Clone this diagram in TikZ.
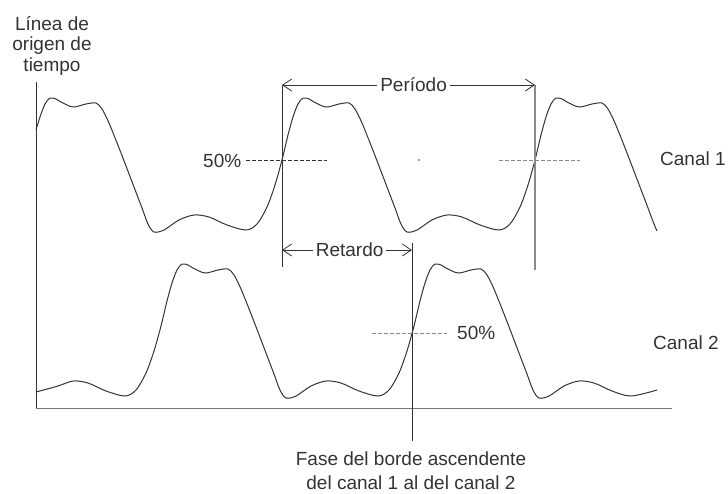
\documentclass[tikz,border=0pt]{standalone}
\usepackage{fontspec}
\setmainfont{Liberation Sans}
\usetikzlibrary{arrows.meta}
\definecolor{ink}{HTML}{333333}
\definecolor{greyink}{HTML}{8A8A8A}
\definecolor{axisgrey}{HTML}{777777}
\begin{document}
\begin{tikzpicture}[x=1pt,y=-1pt,
  lbl/.style={text=ink, inner sep=0pt, font=\fontsize{19}{23}\selectfont},
  wave/.style={draw=ink, line width=1pt, line join=round},
  darkline/.style={draw=ink, line width=0.9pt},
  greyline/.style={draw=greyink, line width=1.3pt},
  dimarrow/.style={draw=ink, line width=0.8pt,
    {Straight Barb[length=9pt,width=12pt]}-{Straight Barb[length=9pt,width=12pt]}},
  dashdark/.style={draw=ink, line width=0.8pt, dash pattern=on 4pt off 2pt},
  dashgrey/.style={draw=greyink, line width=0.9pt, dash pattern=on 4pt off 2pt}]
\useasboundingbox (0,0) rectangle (728,493);

% axes
\coordinate (otop) at (36,82);
\coordinate (obot) at (36,408);
\coordinate (aend) at (672,408);
\draw[darkline] (otop) -- (obot);
\draw[draw=axisgrey, line width=1pt] (obot) -- (aend);

% channel 1
\begin{scope}[shift={(29,160)}]
\draw[wave] plot[smooth,tension=0.5] coordinates {
 (7,-30) (11,-43) (16,-56) (21,-62) (27,-61) (32,-58) (44,-53) (57,-56) (67,-57) (73,-51) (80,-37) (92,-7) (105,27) (113,48) (119,64) (125,72) (135,70) (150,60) (165,55) (180,57) (198,65) (217,70) (228,64) (238,47) (246,25)
 (253,0) (259,-25) (264,-43) (269,-56) (274,-62) (280,-61) (285,-58) (297,-53) (310,-56) (320,-57) (326,-51) (333,-37) (345,-7) (358,27) (366,48) (372,64) (378,72) (388,70) (403,60) (418,55) (433,57) (451,65) (470,70) (481,64) (491,47) (499,25)
 (506,0) (512,-25) (517,-43) (522,-56) (527,-62) (533,-61) (538,-58) (550,-53) (563,-56) (573,-57) (579,-51) (586,-37) (598,-7) (611,27) (619,48) (625,64) (628,71)};
\end{scope}

% channel 2
\begin{scope}[shift={(414,326)}]
\draw[wave] plot[smooth,tension=0.5] coordinates {
 (-378,66) (-356,60) (-341,55) (-326,57) (-308,65) (-289,70) (-278,64) (-268,47) (-260,25)
 (-253,0) (-247,-25) (-242,-43) (-237,-56) (-232,-62) (-226,-61) (-221,-58) (-209,-53) (-196,-56) (-186,-57) (-180,-51) (-173,-37) (-161,-7) (-148,27) (-140,48) (-134,64) (-128,72) (-118,70) (-103,60) (-88,55) (-73,57) (-55,65) (-36,70) (-25,64) (-15,47) (-7,25)
 (0,0) (6,-25) (11,-43) (16,-56) (21,-62) (27,-61) (32,-58) (44,-53) (57,-56) (67,-57) (73,-51) (80,-37) (92,-7) (105,27) (113,48) (119,64) (125,72) (135,70) (150,60) (165,55) (180,57) (198,65) (217,70) (243,64)};
\end{scope}

% vertical reference lines
\coordinate (v1t) at (282,85);
\coordinate (v1b) at (282,267);
\coordinate (v2t) at (535,85);
\coordinate (v2b) at (535,270);
\coordinate (v3t) at (412,243);
\coordinate (v3b) at (412,441);
\draw[darkline] (v1t) -- (v1b);
\draw[greyline] (v2t) -- (v2b);
\draw[darkline] (v3t) -- (v3b);

% period and delay
\coordinate (perL) at (282,85);
\coordinate (perR) at (535,85);
\draw[dimarrow] (perL) -- node[lbl, fill=white, inner xsep=3pt, pos=0.52] (per) {Período} (perR);
\coordinate (retL) at (282,250);
\coordinate (retR) at (412,250);
\draw[dimarrow] (retL) -- node[lbl, fill=white, inner xsep=3pt, pos=0.52] (ret) {Retardo} (retR);

% 50% levels
\node[lbl, anchor=west] (p1) at (203,161) {50\%};
\coordinate (d1r) at (327,160);
\draw[dashdark] ([xshift=5pt]p1.east |- d1r) -- (d1r);
\fill[ink] (419,160) circle (0.8);
\coordinate (d2l) at (499,160);
\coordinate (d2r) at (580,160);
\draw[dashgrey] (d2l) -- (d2r);
\node[lbl, anchor=west] (p2) at (457,333) {50\%};
\coordinate (d3l) at (372,333);
\draw[dashgrey] (d3l) -- ([xshift=-10pt]p2.west |- d3l);

% channel labels
\node[lbl, anchor=west] (c1) at (660,159) {Canal 1};
\node[lbl, anchor=west] (c2) at (653,343) {Canal 2};

% captions
\node[lbl, anchor=north, align=center, font=\fontsize{19}{20.5}\selectfont] (orig) at (52,16) {Línea de\\origen de\\tiempo};
\node[lbl, anchor=north, align=center, font=\fontsize{19}{24}\selectfont] (fase) at (411,452) {Fase del borde ascendente\\del canal 1 al del canal 2};
\end{tikzpicture}
\end{document}
